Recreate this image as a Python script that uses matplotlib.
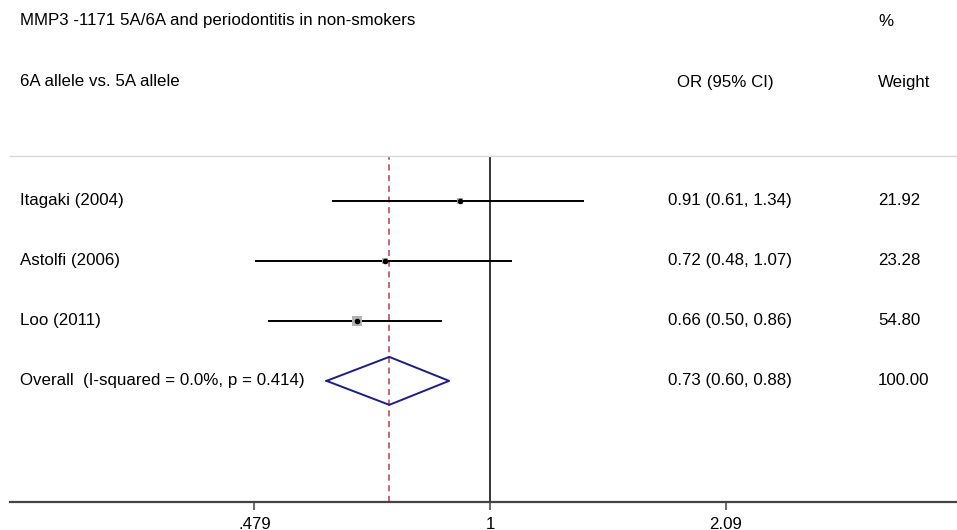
import matplotlib.pyplot as plt
import matplotlib.transforms as mtransforms
import numpy as np

plt.rcParams['font.family'] = ['Liberation Sans', 'DejaVu Sans']

# study data
studies = ['Itagaki (2004)', 'Astolfi (2006)', 'Loo (2011)']
odds = [0.91, 0.72, 0.66]
lower = [0.61, 0.48, 0.50]
upper = [1.34, 1.07, 0.86]
weights = [21.92, 23.28, 54.80]

overall_label = 'Overall  (I-squared = 0.0%, p = 0.414)'
overall_or = 0.73
overall_lo = 0.60
overall_hi = 0.88
overall_w = 100.00

tick_vals = [0.479, 1, 2.09]
tick_labels = ['.479', '1', '2.09']

W, H = 957, 530
fig = plt.figure(figsize=(W / 100, H / 100), dpi=100)
fig.patch.set_facecolor('white')

# axes from x=10..957 px, y=156..502 px (from top)
ax = fig.add_axes([10 / W, 1 - 502 / H, 947 / W, (502 - 156) / H])
ax.set_xscale('log')
ax.set_xlim(np.exp((10 - 490) / 320), np.exp((957 - 490) / 320))
ax.set_ylim(5.02, -0.75)

fs = 12.2
rows = np.arange(len(studies))

# confidence intervals and weight boxes
for i in rows:
    ax.plot([lower[i], upper[i]], [i, i], color='black', lw=1.4, solid_capstyle='butt', zorder=3)
    side = 7.5 * np.sqrt(weights[i] / max(weights))
    ax.plot(odds[i], i, marker='s', ms=side, color='#b4b4b4', mec='#b4b4b4', mew=0, zorder=4)
    ax.plot(odds[i], i, marker='o', ms=3.0, color='black', zorder=5)

# overall diamond
yo = len(studies)
dx = [overall_lo, overall_or, overall_hi, overall_or, overall_lo]
dy = [yo, yo - 0.4, yo, yo + 0.4, yo]
ax.plot(dx, dy, color='#1c1c8a', lw=1.4, zorder=4)

# reference lines
ax.axvline(1, color='black', lw=1.1, zorder=2)
ax.axvline(overall_or, color='#b0404c', lw=1.1, ls=(0, (4, 3)), zorder=2)

# spines / ticks
for s in ['left', 'right']:
    ax.spines[s].set_visible(False)
ax.spines['top'].set_color('#d8d8d8')
ax.spines['top'].set_linewidth(1.0)
ax.spines['bottom'].set_color('#444444')
ax.spines['bottom'].set_linewidth(1.6)
ax.set_yticks([])
ax.set_xticks(tick_vals)
ax.set_xticklabels(tick_labels)
ax.xaxis.set_minor_locator(plt.NullLocator())
ax.tick_params(axis='x', length=6, width=1.1, color='#444444', pad=5, labelsize=fs)

# header texts (pixel positions from top-left)
def px(x, y):
    return x / W, 1 - y / H

fig.text(*px(20, 21), 'MMP3 -1171 5A/6A and periodontitis in non-smokers', fontsize=fs, va='center')
fig.text(*px(878, 21), '%', fontsize=fs, va='center')
fig.text(*px(20, 82), '6A allele vs. 5A allele', fontsize=fs, va='center')
fig.text(*px(677, 82), 'OR (95% CI)', fontsize=fs, va='center')
fig.text(*px(878, 82), 'Weight', fontsize=fs, va='center')

# row texts: x in figure pixels, y in data rows
tr = mtransforms.blended_transform_factory(fig.transFigure, ax.transData)
all_labels = studies + [overall_label]
all_or = odds + [overall_or]
all_lo = lower + [overall_lo]
all_hi = upper + [overall_hi]
all_w = weights + [overall_w]
for i, lab in enumerate(all_labels):
    ax.text(20 / W, i, lab, transform=tr, fontsize=fs, va='center', ha='left')
    ax.text(668 / W, i, '%.2f (%.2f, %.2f)' % (all_or[i], all_lo[i], all_hi[i]),
            transform=tr, fontsize=fs, va='center', ha='left')
    ax.text(878 / W, i, '%.2f' % all_w[i], transform=tr, fontsize=fs, va='center', ha='left')

fig.savefig('out.png', dpi=100, facecolor='white')
